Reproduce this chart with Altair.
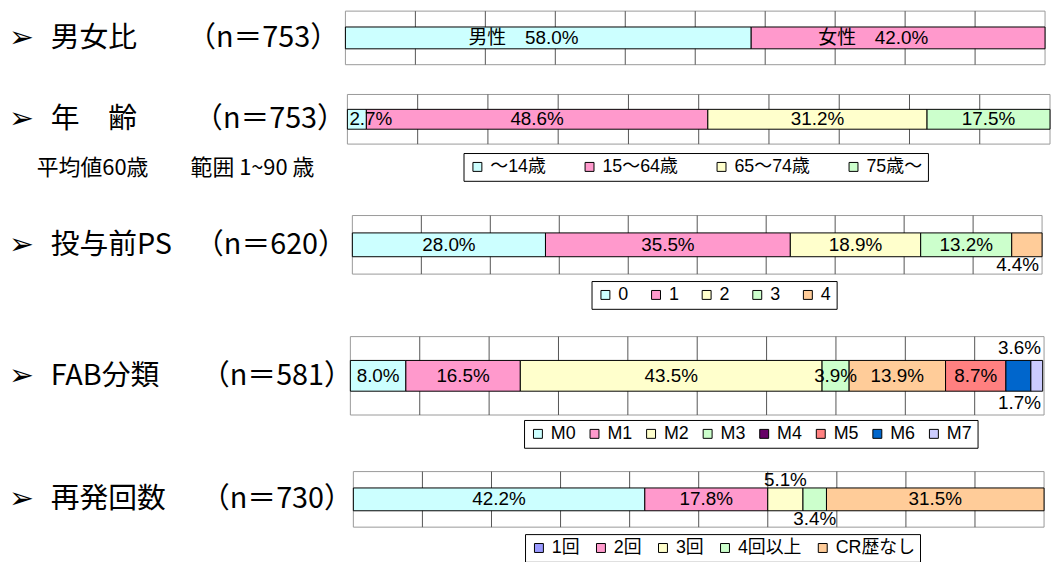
import altair as alt
import numpy as np
import pandas as pd

# ---------------- data ----------------
sex_cats = ["男性", "女性"]
sex_vals = [58.0, 42.0]

age_cats = ["～14歳", "15～64歳", "65～74歳", "75歳～"]
age_vals = [2.7, 48.6, 31.2, 17.5]

ps_cats = ["0", "1", "2", "3", "4"]
ps_vals = [28.0, 35.5, 18.9, 13.2, 4.4]

fab_cats = ["M0", "M1", "M2", "M3", "M4", "M5", "M6", "M7"]
fab_vals = [8.0, 16.5, 43.5, 3.9, 13.9, 8.7, 3.6, 1.7]

rel_cats = ["1回", "2回", "3回", "4回以上", "CR歴なし"]
rel_vals = [42.2, 17.8, 5.1, 3.4, 31.5]

grid_ticks = [10, 20, 30, 40, 50, 60, 70, 80, 90]

row_titles = ["男女比", "年　齢", "投与前PS", "FAB分類", "再発回数"]
row_ns = ["（n＝753）", "（n＝753）", "（n＝620）", "（n＝581）", "（n＝730）"]
age_note_1 = "平均値60歳"
age_note_2 = "範囲 1~90 歳"

# ---------------- styles ----------------
CYAN, PINK, YEL, GRN = "#CCFFFF", "#FF99CC", "#FFFFCC", "#CCFFCC"
PEACH, SALMON, BLUE, LAV = "#FFCC99", "#FF8080", "#0066CC", "#CCCCFF"
PURP, PERI = "#660066", "#9999FF"

LAT = "Liberation Sans, Noto Sans CJK JP"
JP = "Noto Sans CJK JP"
TXT = 19


def row_layer(i, cats, vals, colors, places, xr, yr, barH, ncenter,
              named=False, legend=None, note=False, cdx=0):
    key = f"r{i}"
    H = yr[1] - yr[0]
    t0 = (H - barH) / 2 / H
    t1 = 1 - t0
    vals = np.array(vals, dtype=float)
    ends = np.cumsum(vals)
    starts = ends - vals
    labels = [f"{c}　{v:.1f}%" if named else f"{v:.1f}%" for c, v in zip(cats, vals)]
    df = pd.DataFrame(dict(cat=cats, val=vals, start=starts, end=ends,
                           mid=(starts + ends) / 2, color=colors, label=labels,
                           place=places))
    xs = alt.Scale(domain=[0, 100], range=list(xr), nice=False, zero=False)
    ys = alt.Scale(domain=[0, 1], range=list(yr), nice=False, zero=False)

    one = pd.DataFrame({"k": [key]})
    box = alt.Chart(one).mark_rect(fill="white", stroke="#999999", strokeWidth=1).encode(
        x=alt.XDatum(0, scale=xs, axis=None), x2=alt.X2Datum(100),
        y=alt.YDatum(0, scale=ys, axis=None), y2=alt.Y2Datum(1))
    grid = alt.Chart(pd.DataFrame({"g": grid_ticks})).mark_rule(
        color="#555555", strokeWidth=1).encode(
        x=alt.X("g:Q", scale=xs, axis=None),
        y=alt.YDatum(0, scale=ys, axis=None), y2=alt.Y2Datum(1))
    base = alt.Chart(df)
    bars = base.mark_bar(stroke="black", strokeWidth=1).encode(
        x=alt.X("start:Q", scale=xs, axis=None), x2="end:Q",
        y=alt.YDatum(t0, scale=ys, axis=None), y2=alt.Y2Datum(t1),
        fill=alt.Fill("color:N", scale=None))
    layers = [box, grid, bars]

    specs = {
        "c": ("mid", "center", cdx, 0.5),
        "l": ("start", "left", 2, 0.5),
        "ar": (None, "right", -3, t0 / 2),
        "br": (None, "right", -3, 1 - t0 / 2),
        "ac": ("mid", "center", 0, t0 / 2),
        "bc": ("mid", "center", 0, 1 - t0 / 2),
    }
    for code, (field, align, dx, yy) in specs.items():
        if code not in places:
            continue
        xenc = alt.X(f"{field}:Q", scale=xs, axis=None) if field else alt.XDatum(100, scale=xs, axis=None)
        layers.append(
            base.transform_filter(alt.datum.place == code)
            .mark_text(align=align, baseline="middle", dx=dx,
                       font=LAT, fontSize=TXT, color="black")
            .encode(x=xenc, y=alt.YDatum(yy, scale=ys, axis=None), text="label:N"))

    # left-hand row labels
    lab = alt.Chart(one)
    ymid = alt.YDatum(0.5, scale=ys, axis=None)
    layers += [
        lab.mark_text(text="➢", font="DejaVu Sans", fontSize=30, fontWeight="bold",
                      align="left", baseline="middle", color="black").encode(x=alt.value(1), y=ymid),
        lab.mark_text(text=row_titles[i], font=JP, fontSize=29, align="left",
                      baseline="middle", color="black").encode(x=alt.value(43), y=ymid),
        lab.mark_text(text=row_ns[i], font=JP, fontSize=29, align="center",
                      baseline="middle", color="black").encode(x=alt.value(ncenter), y=ymid),
    ]
    if note:
        ynote = alt.YDatum(1.48, scale=ys, axis=None)
        layers += [
            lab.mark_text(text=age_note_1, font=JP, fontSize=22, align="left",
                          baseline="middle", color="black").encode(x=alt.value(29), y=ynote),
            lab.mark_text(text=age_note_2, font=JP, fontSize=22, align="left",
                          baseline="middle", color="black").encode(x=alt.value(184), y=ynote),
        ]

    if legend is not None:
        lcats, lcols, lx, ly, cpad = legend
        layers.append(
            alt.Chart(pd.DataFrame({"cat": lcats})).transform_filter("false")
            .mark_square(filled=True, stroke="black", strokeWidth=1, opacity=1)
            .encode(color=alt.Color(
                "cat:N",
                scale=alt.Scale(domain=lcats, range=lcols),
                legend=alt.Legend(
                    title=None, orient="none", legendX=lx, legendY=ly,
                    direction="horizontal", columns=len(lcats),
                    symbolType="square", symbolSize=81,
                    symbolStrokeColor="black", symbolStrokeWidth=1,
                    labelFont=LAT, labelFontSize=18, labelColor="black",
                    labelOffset=4, columnPadding=cpad,
                    strokeColor="black", fillColor="white", padding=5,
                ))))
    return alt.layer(*layers)


r1 = row_layer(0, sex_cats, sex_vals, [CYAN, PINK], ["c", "c"],
               (340, 1045), (0, 54), 22, 257, named=True, cdx=-25)
r2 = row_layer(1, age_cats, age_vals, [CYAN, PINK, YEL, GRN], ["l", "c", "c", "c"],
               (342, 1050), (84, 134), 20, 264, note=True,
               legend=(age_cats, [CYAN, PINK, YEL, GRN], 459, 143, 34))
r3 = row_layer(2, ps_cats, ps_vals, [CYAN, PINK, YEL, GRN, PEACH], ["c", "c", "c", "c", "br"],
               (347, 1042), (206, 265), 24, 265,
               legend=(ps_cats, [CYAN, PINK, YEL, GRN, PEACH], 588, 272, 18))
r4 = row_layer(3, fab_cats, fab_vals, [CYAN, PINK, YEL, GRN, PEACH, SALMON, BLUE, LAV],
               ["c", "c", "c", "c", "c", "c", "ar", "br"],
               (345, 1044), (328, 407), 31, 271,
               legend=(fab_cats, [CYAN, PINK, YEL, GRN, PURP, SALMON, BLUE, LAV], 520, 412, 9))
r5 = row_layer(4, rel_cats, rel_vals, [CYAN, PINK, YEL, GRN, PEACH], ["c", "c", "ac", "bc", "c"],
               (348, 1044), (464, 520), 23, 271,
               legend=(rel_cats, [PERI, PINK, YEL, GRN, PEACH], 521, 527, 11.5))

chart = alt.layer(r1, r2, r3, r4, r5).resolve_scale(
    x="independent", y="independent", color="independent"
).properties(
    width=1043, height=546,
    padding={"left": 0, "top": 0, "right": 0, "bottom": 0},
    background="white",
).configure_view(strokeOpacity=0)

chart.save("out.html", embed_options={"renderer": "svg", "actions": False})
